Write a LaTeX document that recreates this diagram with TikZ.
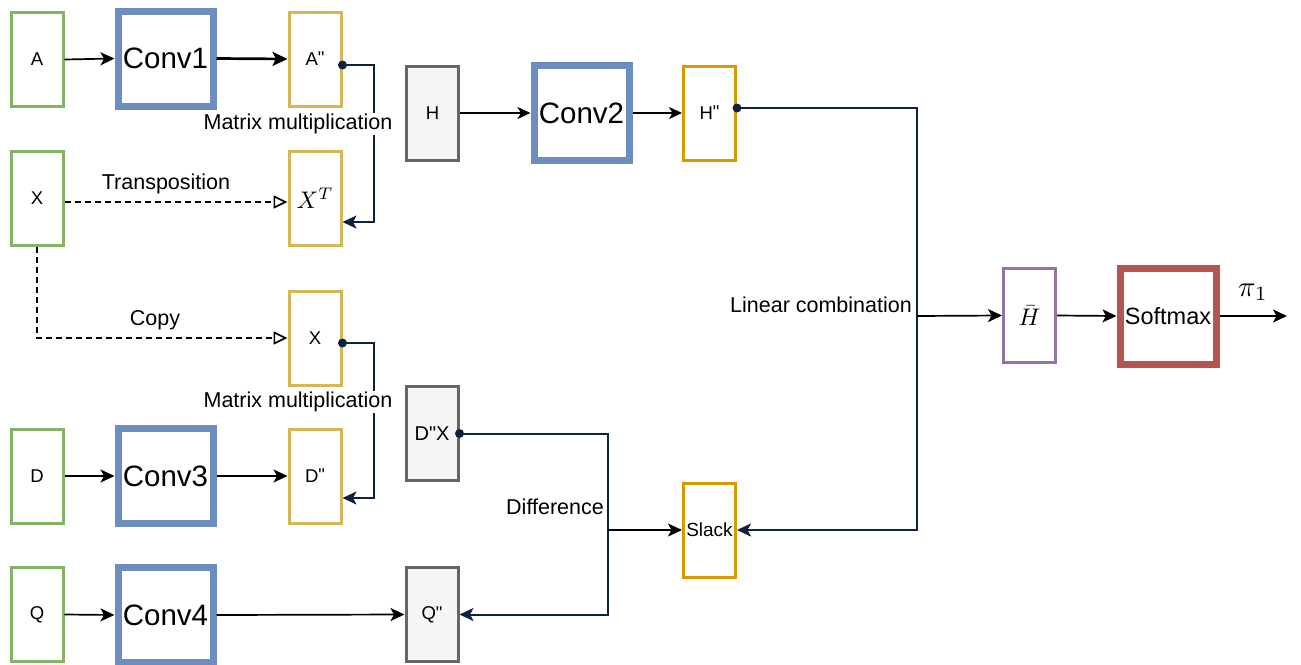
\documentclass[tikz,border=0pt]{standalone}
\usepackage{graphicx}
\usepackage[no-math]{fontspec}
\setmainfont{Liberation Sans}
\newfontfamily\qfont{Liberation Sans}
\usetikzlibrary{arrows.meta}
\definecolor{cgreen}{HTML}{82B366}
\definecolor{cblue}{HTML}{6C8EBF}
\definecolor{cyellow}{HTML}{D6B656}
\definecolor{cgray}{HTML}{666666}
\definecolor{cgrayfill}{HTML}{F5F5F5}
\definecolor{corange}{HTML}{D79B00}
\definecolor{cpurple}{HTML}{9673A6}
\definecolor{cred}{HTML}{B85450}
\definecolor{cnavy}{HTML}{0B2240}
\newcommand{\dq}{{\qfont"}}
\newcommand{\bigmath}[2]{{\fontsize{10}{12}\selectfont\scalebox{#1}{$#2$}}}
\tikzset{
  box/.style={draw, line width=3pt, minimum width=52pt, minimum height=94pt, inner sep=0pt, font=\fontsize{18.5}{22}\selectfont},
  inbox/.style={box, draw=cgreen},
  ybox/.style={box, draw=cyellow},
  gbox/.style={box, draw=cgray, fill=cgrayfill},
  obox/.style={box, draw=corange},
  pbox/.style={box, draw=cpurple},
  convbox/.style={draw=cblue, line width=7pt, minimum width=95pt, minimum height=95pt, inner sep=0pt, font=\fontsize{29.5}{33}\selectfont},
  smbox/.style={draw=cred, line width=7pt, minimum width=96pt, minimum height=96pt, inner sep=0pt, font=\fontsize{23.5}{27}\selectfont},
  arr/.style={line width=1.7pt, -{Stealth[length=14pt, width=13pt, inset=3.5pt]}},
  thinarr/.style={line width=1.2pt, -{Stealth[length=13pt, width=12pt, inset=3.5pt]}},
  navyarr/.style={draw=cnavy, line width=2pt, -{Stealth[length=14pt, width=13pt, inset=3.5pt]}},
  dasharr/.style={line width=1.7pt, dash pattern=on 6pt off 4pt, -{Triangle[open, length=14pt, width=13pt, line width=1.7pt]}},
  lbl/.style={font=\fontsize{21.5}{25}\selectfont, inner sep=1pt},
  dotc/.style={fill=cnavy}
}
\begin{document}
\begin{tikzpicture}[x=1pt, y=-1pt]
\useasboundingbox (0,0) rectangle (1301,664);

% boxes
\node[inbox] (A) at (37,59.5) {A};
\node[convbox] (Conv1) at (165.5,58.5) {Conv1};
\node[ybox] (Ap) at (315,59) {A\raisebox{1pt}{\dq}};

\node[inbox] (X) at (37,198) {X};
\node[ybox] (XT) at (315,198) {\bigmath{2.4}{X^T}};

\node[ybox] (Xc) at (315,338) {X};

\node[inbox] (D) at (37,476) {D};
\node[convbox] (Conv3) at (165.5,476) {Conv3};
\node[ybox] (Dp) at (315,476) {D\raisebox{1pt}{\dq}};

\node[inbox] (Q) at (37,614.5) {Q};
\node[convbox] (Conv4) at (165.5,615) {Conv4};
\node[gbox] (Qp) at (432,614.5) {Q\dq};

\node[gbox] (H) at (432.5,113) {H};
\node[convbox] (Conv2) at (581.5,113) {Conv2};
\node[obox] (Hp) at (709.5,113) {H\raisebox{1pt}{\dq}};

\node[gbox, font=\fontsize{20}{24}\selectfont] (DX) at (432,433.5) {D\dq X};

\node[obox, font=\fontsize{19}{22}\selectfont] (Slack) at (709.5,530) {Slack};

\node[pbox] (Hbar) at (1029.5,315.5) {\bigmath{2.4}{\bar{H}}};
\node[smbox] (Softmax) at (1168,316) {Softmax};

\coordinate (out) at (1287,316);
\coordinate (jH) at (917,316);
\coordinate (jD) at (608,530);

% connectors
\draw[arr] (A.east) -- (Conv1.west);
\draw[line width=2.7pt, -{Stealth[length=15pt, width=14pt, inset=3.5pt]}] (Conv1.east) -- (Ap.west);
\draw[navyarr] ([yshift=-6pt]Ap.east) -- ++(31,0) |- ([yshift=-24pt]XT.east);
\fill[dotc] ([yshift=-6pt]Ap.east) circle[radius=4.5pt];

\draw[dasharr] ([yshift=-4pt]X.east) -- ([yshift=-4pt]XT.west);
\draw[dasharr] (X.south) |- (Xc.west);

\draw[navyarr] ([yshift=-5pt]Xc.east) -- ++(31,0) |- ([yshift=-22pt]Dp.east);
\fill[dotc] ([yshift=-5pt]Xc.east) circle[radius=4.5pt];

\draw[arr] (D.east) -- (Conv3.west);
\draw[arr] (Conv3.east) -- (Dp.west);
\draw[arr] (Q.east) -- (Conv4.west);
\draw[arr] (Conv4.east) -- (Qp.west);

\draw[thinarr] (H.east) -- (Conv2.west);
\draw[thinarr] (Conv2.east) -- (Hp.west);

\draw[navyarr] ([yshift=5pt]Hp.east) -| (jH) |- (Slack.east);
\fill[dotc] ([yshift=5pt]Hp.east) circle[radius=4.5pt];
\draw[arr] (jH) -- (Hbar.west);
\draw[arr] (Hbar.east) -- (Softmax.west);
\draw[arr] (Softmax.east) -- (out);

\draw[navyarr] (DX.east) -| (jD) |- (Qp.east);
\fill[dotc] (DX.east) circle[radius=4.5pt];
\draw[arr] (jD) -- (Slack.west);

% labels
\node[lbl, fill=white] (mm1) at (298,124) {Matrix multiplication};
\node[lbl, fill=white] (mm2) at (298,402) {Matrix multiplication};
\node[lbl] (tr) at (166,184) {Transposition};
\node[lbl] (cp) at (155,320) {Copy};
\node[lbl] (lc) at (821,305) {Linear combination};
\node[lbl] (df) at (555,507) {Difference};
\node (pi) at (1253,292) {\bigmath{2.9}{\pi_1}};
\end{tikzpicture}
\end{document}
